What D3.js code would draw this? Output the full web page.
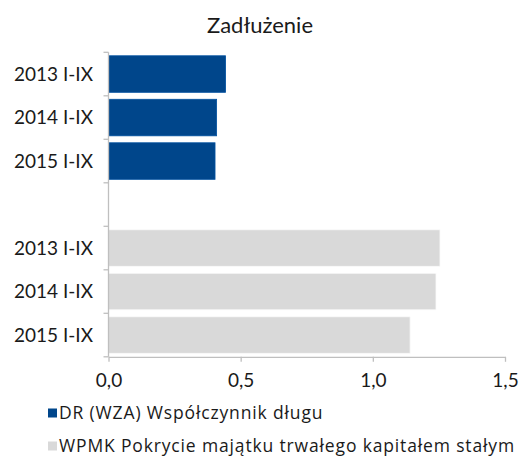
<!DOCTYPE html>
<html>
<head>
<meta charset="utf-8">
<script src="https://cdn.jsdelivr.net/npm/d3@7"></script>
<style>
  body { margin: 0; background: #fff; }
  text { font-family: "Lato", "Open Sans", sans-serif; fill: #1a1a1a; }
</style>
</head>
<body>
<div id="chart"></div>
<script>
// categories top to bottom; "gap" is the empty slot between the two groups
var categories = ["a2013", "a2014", "a2015", "gap", "b2013", "b2014", "b2015"];
var catLabels = ["2013 I-IX", "2014 I-IX", "2015 I-IX", "", "2013 I-IX", "2014 I-IX", "2015 I-IX"];
var drValues = [0.443, 0.409, 0.403];
var wpmkValues = [1.254, 1.239, 1.141];
var xTicks = [0, 0.5, 1.0, 1.5];
var seriesNames = ["DR (WZA) Współczynnik długu", "WPMK Pokrycie majątku trwałego kapitałem stałym"];
var colors = ["#00468b", "#d9d9d9"];

var width = 520, height = 456;
var svg = d3.select("#chart").append("svg")
  .attr("width", width)
  .attr("height", height);

var x = d3.scaleLinear().domain([0, 1.5]).range([108.5, 505]);
var y = d3.scaleBand().domain(categories).range([52.3, 356.8])
  .paddingInner(0.16).paddingOuter(0.08);

var bars = [];
drValues.forEach((v, i) => bars.push({ cat: categories[i], v: v, c: colors[0] }));
wpmkValues.forEach((v, i) => bars.push({ cat: categories[i + 4], v: v, c: colors[1] }));

svg.append("text")
  .attr("x", 260).attr("y", 33)
  .attr("text-anchor", "middle")
  .style("font-size", "22px")
  .text("Zadłużenie");

svg.selectAll("rect.bar")
  .data(bars)
  .enter()
  .append("rect")
  .attr("class", "bar")
  .attr("x", x(0))
  .attr("y", d => y(d.cat))
  .attr("width", d => x(d.v) - x(0))
  .attr("height", y.bandwidth())
  .attr("fill", d => d.c)
  .attr("stroke", d => d3.color(d.c).brighter(0.4))
  .attr("stroke-width", 0.8);

// y axis: ticks on category boundaries
var step = y.step();
var boundaries = d3.range(categories.length + 1).map(i => 52.3 + i * step);
var axisCol = "#bfbfbf";
svg.append("line")
  .attr("x1", x(0)).attr("x2", x(0))
  .attr("y1", boundaries[0]).attr("y2", boundaries[boundaries.length - 1])
  .attr("stroke", axisCol).attr("stroke-width", 1.3);
svg.selectAll("line.ytick")
  .data(boundaries)
  .enter()
  .append("line")
  .attr("class", "ytick")
  .attr("x1", x(0) - 5).attr("x2", x(0))
  .attr("y1", d => d).attr("y2", d => d)
  .attr("stroke", axisCol).attr("stroke-width", 1.3);

svg.selectAll("text.ylab")
  .data(categories.filter((c, i) => catLabels[i] !== ""))
  .enter()
  .append("text")
  .attr("class", "ylab")
  .attr("x", 93)
  .attr("y", d => y(d) + y.bandwidth() / 2)
  .attr("dy", "0.35em")
  .attr("text-anchor", "end")
  .style("font-size", "19px")
  .text(d => catLabels[categories.indexOf(d)]);

// x axis
var xAxis = d3.axisBottom(x)
  .tickValues(xTicks)
  .tickSize(5)
  .tickSizeOuter(0)
  .tickFormat(d => d3.format(".1f")(d).replace(".", ","));
var gx = svg.append("g")
  .attr("transform", "translate(0," + boundaries[boundaries.length - 1] + ")")
  .call(xAxis);
gx.select(".domain").attr("stroke", axisCol).attr("stroke-width", 1.3);
gx.selectAll(".tick line").attr("stroke", axisCol).attr("stroke-width", 1.3);
gx.selectAll(".tick text")
  .attr("dy", "1.15em")
  .style("font-size", "19px")
  .style("font-family", "Lato, 'Open Sans', sans-serif")
  .attr("fill", "#1a1a1a");

// legend
var legend = svg.selectAll("g.leg")
  .data(seriesNames)
  .enter()
  .append("g")
  .attr("class", "leg")
  .attr("transform", (d, i) => "translate(48," + (413 + i * 33) + ")");
legend.append("rect")
  .attr("x", 0).attr("y", -4.5)
  .attr("width", 9).attr("height", 9)
  .attr("fill", (d, i) => colors[i]);
legend.append("text")
  .attr("x", 11)
  .attr("y", 0)
  .attr("dy", "0.35em")
  .style("font-family", "'Open Sans', sans-serif")
  .style("font-size", "17.5px")
  .style("letter-spacing", "0.85px")
  .text(d => d);
</script>
</body>
</html>
